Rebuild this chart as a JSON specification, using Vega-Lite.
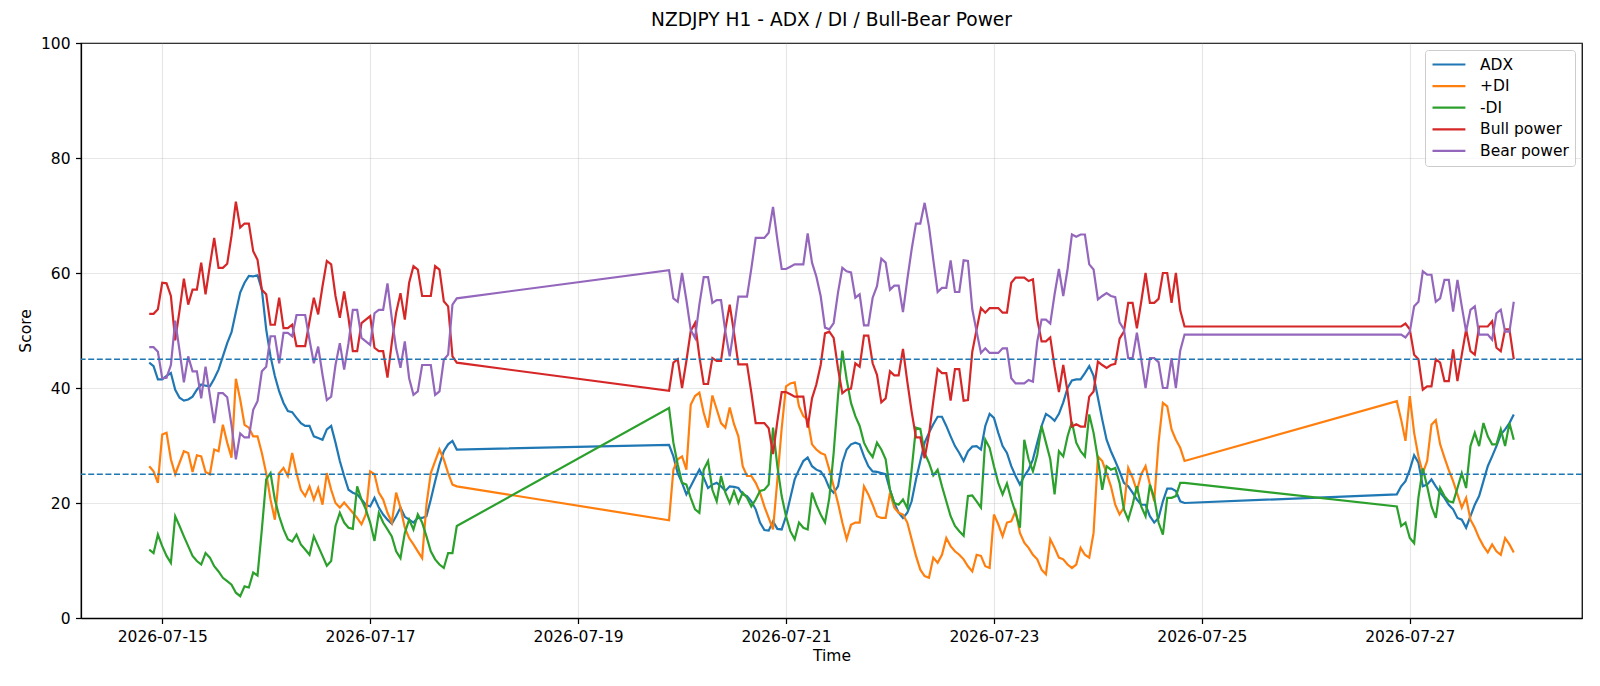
{
  "$schema": "https://vega.github.io/schema/vega-lite/v6.json",
  "width": 1501,
  "height": 575,
  "autosize": {"type": "none"},
  "padding": {"left": 81, "top": 43, "right": 18, "bottom": 68},
  "background": "white",
  "title": {
    "text": "NZDJPY H1 - ADX / DI / Bull-Bear Power",
    "font": "DejaVu Sans",
    "fontSize": 18.6,
    "fontWeight": "normal",
    "color": "black",
    "anchor": "middle",
    "offset": 6
  },
  "config": {
    "font": "DejaVu Sans",
    "view": {"stroke": "black", "strokeWidth": 1.25},
    "axis": {
      "labelFont": "DejaVu Sans",
      "labelFontSize": 15.5,
      "labelColor": "black",
      "titleFont": "DejaVu Sans",
      "titleFontSize": 15.5,
      "titleFontWeight": "normal",
      "titleColor": "black",
      "domainColor": "black",
      "domainWidth": 1.25,
      "tickColor": "black",
      "tickWidth": 1.25,
      "tickSize": 5.5,
      "labelPadding": 5.5,
      "grid": true,
      "gridColor": "#b0b0b0",
      "gridOpacity": 0.3,
      "gridWidth": 1.2
    },
    "legend": {
      "labelFont": "DejaVu Sans",
      "labelFontSize": 15.5,
      "labelColor": "black"
    }
  },
  "layer": [
    {
      "data": {
        "values": [
          {"t": "2026-07-14T21:00", "ADX": 44.4, "+DI": 26.4, "-DI": 11.9, "Bull power": 52.9, "Bear power": 47.1},
          {"t": "2026-07-14T22:00", "ADX": 43.8, "+DI": 25.5, "-DI": 11.3, "Bull power": 52.9, "Bear power": 47.1},
          {"t": "2026-07-14T23:00", "ADX": 41.5, "+DI": 23.5, "-DI": 14.5, "Bull power": 53.7, "Bear power": 46.3},
          {"t": "2026-07-15T00:00", "ADX": 41.5, "+DI": 31.9, "-DI": 12.5, "Bull power": 58.3, "Bear power": 41.7},
          {"t": "2026-07-15T01:00", "ADX": 42.1, "+DI": 32.2, "-DI": 10.8, "Bull power": 58.2, "Bear power": 41.8},
          {"t": "2026-07-15T02:00", "ADX": 42.6, "+DI": 27.6, "-DI": 9.6, "Bull power": 56.0, "Bear power": 44.0},
          {"t": "2026-07-15T03:00", "ADX": 39.7, "+DI": 25.0, "-DI": 17.7, "Bull power": 48.3, "Bear power": 51.7},
          {"t": "2026-07-15T04:00", "ADX": 38.3, "+DI": 27.0, "-DI": 16.0, "Bull power": 53.5, "Bear power": 46.5},
          {"t": "2026-07-15T05:00", "ADX": 37.8, "+DI": 29.0, "-DI": 14.2, "Bull power": 59.0, "Bear power": 41.0},
          {"t": "2026-07-15T06:00", "ADX": 38.0, "+DI": 28.7, "-DI": 12.5, "Bull power": 54.5, "Bear power": 45.5},
          {"t": "2026-07-15T07:00", "ADX": 38.5, "+DI": 25.4, "-DI": 10.8, "Bull power": 57.1, "Bear power": 42.9},
          {"t": "2026-07-15T08:00", "ADX": 39.7, "+DI": 28.3, "-DI": 9.9, "Bull power": 57.1, "Bear power": 42.9},
          {"t": "2026-07-15T09:00", "ADX": 40.6, "+DI": 28.1, "-DI": 9.3, "Bull power": 61.8, "Bear power": 38.2},
          {"t": "2026-07-15T10:00", "ADX": 40.4, "+DI": 25.4, "-DI": 11.3, "Bull power": 56.3, "Bear power": 43.7},
          {"t": "2026-07-15T11:00", "ADX": 40.3, "+DI": 25.0, "-DI": 10.5, "Bull power": 61.3, "Bear power": 38.7},
          {"t": "2026-07-15T12:00", "ADX": 41.6, "+DI": 29.3, "-DI": 9.0, "Bull power": 66.1, "Bear power": 33.9},
          {"t": "2026-07-15T13:00", "ADX": 43.2, "+DI": 29.0, "-DI": 8.1, "Bull power": 60.9, "Bear power": 39.1},
          {"t": "2026-07-15T14:00", "ADX": 45.5, "+DI": 33.6, "-DI": 7.0, "Bull power": 60.9, "Bear power": 39.1},
          {"t": "2026-07-15T15:00", "ADX": 47.8, "+DI": 30.5, "-DI": 6.4, "Bull power": 61.6, "Bear power": 38.4},
          {"t": "2026-07-15T16:00", "ADX": 49.7, "+DI": 27.9, "-DI": 5.8, "Bull power": 66.5, "Bear power": 33.5},
          {"t": "2026-07-15T17:00", "ADX": 53.2, "+DI": 41.6, "-DI": 4.4, "Bull power": 72.4, "Bear power": 27.6},
          {"t": "2026-07-15T18:00", "ADX": 56.6, "+DI": 38.0, "-DI": 3.8, "Bull power": 67.9, "Bear power": 32.1},
          {"t": "2026-07-15T19:00", "ADX": 58.3, "+DI": 33.6, "-DI": 5.5, "Bull power": 68.6, "Bear power": 31.4},
          {"t": "2026-07-15T20:00", "ADX": 59.5, "+DI": 33.1, "-DI": 5.3, "Bull power": 68.6, "Bear power": 31.4},
          {"t": "2026-07-15T21:00", "ADX": 59.4, "+DI": 31.6, "-DI": 7.9, "Bull power": 63.8, "Bear power": 36.2},
          {"t": "2026-07-15T22:00", "ADX": 59.6, "+DI": 31.6, "-DI": 7.4, "Bull power": 62.3, "Bear power": 37.7},
          {"t": "2026-07-15T23:00", "ADX": 57.1, "+DI": 28.7, "-DI": 15.4, "Bull power": 57.1, "Bear power": 42.9},
          {"t": "2026-07-16T00:00", "ADX": 50.2, "+DI": 25.2, "-DI": 24.1, "Bull power": 56.3, "Bear power": 43.7},
          {"t": "2026-07-16T01:00", "ADX": 45.5, "+DI": 20.6, "-DI": 25.2, "Bull power": 51.0, "Bear power": 49.0},
          {"t": "2026-07-16T02:00", "ADX": 42.1, "+DI": 17.1, "-DI": 20.6, "Bull power": 51.0, "Bear power": 49.0},
          {"t": "2026-07-16T03:00", "ADX": 39.4, "+DI": 25.2, "-DI": 17.7, "Bull power": 55.7, "Bear power": 44.3},
          {"t": "2026-07-16T04:00", "ADX": 37.4, "+DI": 26.1, "-DI": 15.4, "Bull power": 50.4, "Bear power": 49.6},
          {"t": "2026-07-16T05:00", "ADX": 36.0, "+DI": 24.7, "-DI": 13.7, "Bull power": 50.4, "Bear power": 49.6},
          {"t": "2026-07-16T06:00", "ADX": 35.8, "+DI": 28.7, "-DI": 13.3, "Bull power": 51.0, "Bear power": 49.0},
          {"t": "2026-07-16T07:00", "ADX": 34.8, "+DI": 25.2, "-DI": 14.5, "Bull power": 47.3, "Bear power": 52.7},
          {"t": "2026-07-16T08:00", "ADX": 33.9, "+DI": 22.3, "-DI": 12.8, "Bull power": 47.3, "Bear power": 52.7},
          {"t": "2026-07-16T09:00", "ADX": 33.4, "+DI": 21.2, "-DI": 11.9, "Bull power": 47.3, "Bear power": 52.7},
          {"t": "2026-07-16T10:00", "ADX": 33.4, "+DI": 22.9, "-DI": 11.0, "Bull power": 51.6, "Bear power": 48.4},
          {"t": "2026-07-16T11:00", "ADX": 31.6, "+DI": 20.6, "-DI": 14.2, "Bull power": 55.7, "Bear power": 44.3},
          {"t": "2026-07-16T12:00", "ADX": 31.3, "+DI": 22.6, "-DI": 12.5, "Bull power": 52.8, "Bear power": 47.2},
          {"t": "2026-07-16T13:00", "ADX": 31.0, "+DI": 19.7, "-DI": 10.8, "Bull power": 57.7, "Bear power": 42.3},
          {"t": "2026-07-16T14:00", "ADX": 32.8, "+DI": 25.2, "-DI": 9.1, "Bull power": 62.1, "Bear power": 37.9},
          {"t": "2026-07-16T15:00", "ADX": 33.4, "+DI": 22.3, "-DI": 9.9, "Bull power": 61.5, "Bear power": 38.5},
          {"t": "2026-07-16T16:00", "ADX": 30.5, "+DI": 20.0, "-DI": 16.0, "Bull power": 56.0, "Bear power": 44.0},
          {"t": "2026-07-16T17:00", "ADX": 27.3, "+DI": 19.2, "-DI": 18.3, "Bull power": 52.2, "Bear power": 47.8},
          {"t": "2026-07-16T18:00", "ADX": 24.7, "+DI": 20.1, "-DI": 16.6, "Bull power": 56.8, "Bear power": 43.2},
          {"t": "2026-07-16T19:00", "ADX": 22.3, "+DI": 19.2, "-DI": 15.7, "Bull power": 52.2, "Bear power": 47.8},
          {"t": "2026-07-16T20:00", "ADX": 21.8, "+DI": 18.3, "-DI": 15.5, "Bull power": 46.4, "Bear power": 53.6},
          {"t": "2026-07-16T21:00", "ADX": 21.5, "+DI": 17.4, "-DI": 22.9, "Bull power": 46.4, "Bear power": 53.6},
          {"t": "2026-07-16T22:00", "ADX": 20.6, "+DI": 16.3, "-DI": 20.6, "Bull power": 51.3, "Bear power": 48.7},
          {"t": "2026-07-16T23:00", "ADX": 19.7, "+DI": 18.0, "-DI": 18.9, "Bull power": 51.9, "Bear power": 48.1},
          {"t": "2026-07-17T00:00", "ADX": 19.4, "+DI": 25.5, "-DI": 16.6, "Bull power": 52.5, "Bear power": 47.5},
          {"t": "2026-07-17T01:00", "ADX": 20.9, "+DI": 25.0, "-DI": 13.4, "Bull power": 47.0, "Bear power": 53.0},
          {"t": "2026-07-17T02:00", "ADX": 19.2, "+DI": 21.8, "-DI": 18.3, "Bull power": 46.4, "Bear power": 53.6},
          {"t": "2026-07-17T03:00", "ADX": 18.0, "+DI": 20.6, "-DI": 16.6, "Bull power": 46.4, "Bear power": 53.6},
          {"t": "2026-07-17T04:00", "ADX": 17.1, "+DI": 18.3, "-DI": 15.4, "Bull power": 41.8, "Bear power": 58.2},
          {"t": "2026-07-17T05:00", "ADX": 16.4, "+DI": 16.6, "-DI": 14.2, "Bull power": 47.9, "Bear power": 52.1},
          {"t": "2026-07-17T06:00", "ADX": 17.7, "+DI": 21.8, "-DI": 11.6, "Bull power": 53.1, "Bear power": 46.9},
          {"t": "2026-07-17T07:00", "ADX": 19.2, "+DI": 19.2, "-DI": 10.4, "Bull power": 56.5, "Bear power": 43.5},
          {"t": "2026-07-17T08:00", "ADX": 17.6, "+DI": 15.7, "-DI": 14.8, "Bull power": 51.9, "Bear power": 48.1},
          {"t": "2026-07-17T09:00", "ADX": 17.1, "+DI": 13.9, "-DI": 17.1, "Bull power": 58.3, "Bear power": 41.7},
          {"t": "2026-07-17T10:00", "ADX": 16.6, "+DI": 12.8, "-DI": 15.4, "Bull power": 61.2, "Bear power": 38.8},
          {"t": "2026-07-17T11:00", "ADX": 17.4, "+DI": 11.6, "-DI": 18.0, "Bull power": 60.6, "Bear power": 39.4},
          {"t": "2026-07-17T12:00", "ADX": 17.4, "+DI": 10.4, "-DI": 16.6, "Bull power": 56.0, "Bear power": 44.0},
          {"t": "2026-07-17T13:00", "ADX": 17.7, "+DI": 19.7, "-DI": 14.2, "Bull power": 56.0, "Bear power": 44.0},
          {"t": "2026-07-17T14:00", "ADX": 20.6, "+DI": 25.2, "-DI": 11.6, "Bull power": 56.0, "Bear power": 44.0},
          {"t": "2026-07-17T15:00", "ADX": 23.8, "+DI": 27.3, "-DI": 10.2, "Bull power": 61.2, "Bear power": 38.8},
          {"t": "2026-07-17T16:00", "ADX": 26.7, "+DI": 29.3, "-DI": 9.3, "Bull power": 60.6, "Bear power": 39.4},
          {"t": "2026-07-17T17:00", "ADX": 29.0, "+DI": 27.6, "-DI": 8.7, "Bull power": 55.1, "Bear power": 44.9},
          {"t": "2026-07-17T18:00", "ADX": 30.2, "+DI": 25.2, "-DI": 11.3, "Bull power": 54.2, "Bear power": 45.8},
          {"t": "2026-07-17T19:00", "ADX": 30.8, "+DI": 23.2, "-DI": 11.3, "Bull power": 45.5, "Bear power": 54.5},
          {"t": "2026-07-17T20:00", "ADX": 29.3, "+DI": 22.9, "-DI": 16.0, "Bull power": 44.4, "Bear power": 55.6},
          {"t": "2026-07-19T21:00", "ADX": 30.1, "+DI": 17.0, "-DI": 36.5, "Bull power": 39.5, "Bear power": 60.5},
          {"t": "2026-07-19T22:00", "ADX": 28.1, "+DI": 25.8, "-DI": 30.5, "Bull power": 44.4, "Bear power": 55.6},
          {"t": "2026-07-19T23:00", "ADX": 25.2, "+DI": 27.6, "-DI": 26.7, "Bull power": 45.0, "Bear power": 55.0},
          {"t": "2026-07-20T00:00", "ADX": 23.5, "+DI": 28.1, "-DI": 23.5, "Bull power": 40.0, "Bear power": 60.0},
          {"t": "2026-07-20T01:00", "ADX": 21.5, "+DI": 25.8, "-DI": 23.2, "Bull power": 44.7, "Bear power": 55.3},
          {"t": "2026-07-20T02:00", "ADX": 22.9, "+DI": 37.1, "-DI": 20.9, "Bull power": 49.9, "Bear power": 50.1},
          {"t": "2026-07-20T03:00", "ADX": 24.4, "+DI": 38.6, "-DI": 18.9, "Bull power": 51.3, "Bear power": 48.7},
          {"t": "2026-07-20T04:00", "ADX": 25.8, "+DI": 39.2, "-DI": 18.3, "Bull power": 45.5, "Bear power": 54.5},
          {"t": "2026-07-20T05:00", "ADX": 24.4, "+DI": 35.7, "-DI": 25.8, "Bull power": 40.7, "Bear power": 59.3},
          {"t": "2026-07-20T06:00", "ADX": 22.6, "+DI": 33.1, "-DI": 27.3, "Bull power": 40.7, "Bear power": 59.3},
          {"t": "2026-07-20T07:00", "ADX": 23.2, "+DI": 38.7, "-DI": 22.3, "Bull power": 45.2, "Bear power": 54.8},
          {"t": "2026-07-20T08:00", "ADX": 23.5, "+DI": 36.3, "-DI": 20.3, "Bull power": 44.7, "Bear power": 55.3},
          {"t": "2026-07-20T09:00", "ADX": 22.9, "+DI": 33.9, "-DI": 24.7, "Bull power": 44.7, "Bear power": 55.3},
          {"t": "2026-07-20T10:00", "ADX": 22.1, "+DI": 33.1, "-DI": 21.8, "Bull power": 50.2, "Bear power": 49.8},
          {"t": "2026-07-20T11:00", "ADX": 22.9, "+DI": 36.6, "-DI": 20.0, "Bull power": 54.5, "Bear power": 45.5},
          {"t": "2026-07-20T12:00", "ADX": 22.8, "+DI": 33.7, "-DI": 22.1, "Bull power": 49.6, "Bear power": 50.4},
          {"t": "2026-07-20T13:00", "ADX": 22.6, "+DI": 31.6, "-DI": 20.0, "Bull power": 44.1, "Bear power": 55.9},
          {"t": "2026-07-20T14:00", "ADX": 21.5, "+DI": 26.4, "-DI": 21.8, "Bull power": 44.1, "Bear power": 55.9},
          {"t": "2026-07-20T15:00", "ADX": 21.2, "+DI": 24.7, "-DI": 20.9, "Bull power": 44.1, "Bear power": 55.9},
          {"t": "2026-07-20T16:00", "ADX": 20.3, "+DI": 24.7, "-DI": 19.4, "Bull power": 39.2, "Bear power": 60.8},
          {"t": "2026-07-20T17:00", "ADX": 18.9, "+DI": 23.5, "-DI": 20.6, "Bull power": 33.9, "Bear power": 66.1},
          {"t": "2026-07-20T18:00", "ADX": 16.6, "+DI": 21.8, "-DI": 22.1, "Bull power": 33.9, "Bear power": 66.1},
          {"t": "2026-07-20T19:00", "ADX": 15.3, "+DI": 19.4, "-DI": 22.3, "Bull power": 33.9, "Bear power": 66.1},
          {"t": "2026-07-20T20:00", "ADX": 15.2, "+DI": 17.4, "-DI": 23.2, "Bull power": 33.0, "Bear power": 67.0},
          {"t": "2026-07-20T21:00", "ADX": 16.8, "+DI": 15.4, "-DI": 33.1, "Bull power": 28.5, "Bear power": 71.5},
          {"t": "2026-07-20T22:00", "ADX": 15.5, "+DI": 24.0, "-DI": 26.4, "Bull power": 34.2, "Bear power": 65.8},
          {"t": "2026-07-20T23:00", "ADX": 15.4, "+DI": 33.0, "-DI": 21.2, "Bull power": 39.3, "Bear power": 60.7},
          {"t": "2026-07-21T00:00", "ADX": 17.7, "+DI": 40.3, "-DI": 17.7, "Bull power": 39.3, "Bear power": 60.7},
          {"t": "2026-07-21T01:00", "ADX": 20.9, "+DI": 40.8, "-DI": 15.1, "Bull power": 38.9, "Bear power": 61.1},
          {"t": "2026-07-21T02:00", "ADX": 24.1, "+DI": 41.0, "-DI": 13.7, "Bull power": 38.5, "Bear power": 61.5},
          {"t": "2026-07-21T03:00", "ADX": 25.8, "+DI": 36.8, "-DI": 16.6, "Bull power": 38.5, "Bear power": 61.5},
          {"t": "2026-07-21T04:00", "ADX": 27.3, "+DI": 35.1, "-DI": 15.7, "Bull power": 38.5, "Bear power": 61.5},
          {"t": "2026-07-21T05:00", "ADX": 27.9, "+DI": 34.5, "-DI": 15.4, "Bull power": 33.1, "Bear power": 66.9},
          {"t": "2026-07-21T06:00", "ADX": 26.4, "+DI": 30.2, "-DI": 21.8, "Bull power": 38.2, "Bear power": 61.8},
          {"t": "2026-07-21T07:00", "ADX": 25.8, "+DI": 29.3, "-DI": 19.7, "Bull power": 40.6, "Bear power": 59.4},
          {"t": "2026-07-21T08:00", "ADX": 25.5, "+DI": 28.7, "-DI": 18.0, "Bull power": 44.0, "Bear power": 56.0},
          {"t": "2026-07-21T09:00", "ADX": 24.4, "+DI": 28.4, "-DI": 16.6, "Bull power": 49.5, "Bear power": 50.5},
          {"t": "2026-07-21T10:00", "ADX": 22.6, "+DI": 25.8, "-DI": 20.9, "Bull power": 49.8, "Bear power": 50.2},
          {"t": "2026-07-21T11:00", "ADX": 21.8, "+DI": 22.9, "-DI": 28.7, "Bull power": 48.7, "Bear power": 51.3},
          {"t": "2026-07-21T12:00", "ADX": 22.9, "+DI": 20.0, "-DI": 38.6, "Bull power": 43.4, "Bear power": 56.6},
          {"t": "2026-07-21T13:00", "ADX": 27.0, "+DI": 16.6, "-DI": 46.5, "Bull power": 39.1, "Bear power": 60.9},
          {"t": "2026-07-21T14:00", "ADX": 29.3, "+DI": 13.7, "-DI": 41.5, "Bull power": 39.7, "Bear power": 60.3},
          {"t": "2026-07-21T15:00", "ADX": 30.2, "+DI": 16.2, "-DI": 37.4, "Bull power": 39.9, "Bear power": 60.1},
          {"t": "2026-07-21T16:00", "ADX": 30.5, "+DI": 16.6, "-DI": 35.1, "Bull power": 44.3, "Bear power": 55.7},
          {"t": "2026-07-21T17:00", "ADX": 30.2, "+DI": 16.6, "-DI": 33.4, "Bull power": 43.7, "Bear power": 56.3},
          {"t": "2026-07-21T18:00", "ADX": 28.1, "+DI": 22.9, "-DI": 30.5, "Bull power": 49.1, "Bear power": 50.9},
          {"t": "2026-07-21T19:00", "ADX": 26.4, "+DI": 21.5, "-DI": 29.0, "Bull power": 49.1, "Bear power": 50.9},
          {"t": "2026-07-21T20:00", "ADX": 25.5, "+DI": 19.7, "-DI": 28.0, "Bull power": 44.3, "Bear power": 55.7},
          {"t": "2026-07-21T21:00", "ADX": 25.4, "+DI": 17.7, "-DI": 30.5, "Bull power": 42.3, "Bear power": 57.7},
          {"t": "2026-07-21T22:00", "ADX": 25.2, "+DI": 17.4, "-DI": 29.3, "Bull power": 37.5, "Bear power": 62.5},
          {"t": "2026-07-21T23:00", "ADX": 25.0, "+DI": 17.4, "-DI": 27.6, "Bull power": 38.2, "Bear power": 61.8},
          {"t": "2026-07-22T00:00", "ADX": 22.3, "+DI": 21.8, "-DI": 22.3, "Bull power": 42.9, "Bear power": 57.1},
          {"t": "2026-07-22T01:00", "ADX": 20.0, "+DI": 19.2, "-DI": 20.0, "Bull power": 42.2, "Bear power": 57.8},
          {"t": "2026-07-22T02:00", "ADX": 18.3, "+DI": 18.3, "-DI": 19.7, "Bull power": 42.2, "Bear power": 57.8},
          {"t": "2026-07-22T03:00", "ADX": 17.4, "+DI": 18.0, "-DI": 20.6, "Bull power": 46.8, "Bear power": 53.2},
          {"t": "2026-07-22T04:00", "ADX": 18.3, "+DI": 16.6, "-DI": 19.1, "Bull power": 41.1, "Bear power": 58.9},
          {"t": "2026-07-22T05:00", "ADX": 20.3, "+DI": 13.7, "-DI": 25.8, "Bull power": 35.9, "Bear power": 64.1},
          {"t": "2026-07-22T06:00", "ADX": 24.1, "+DI": 10.8, "-DI": 33.1, "Bull power": 31.4, "Bear power": 68.6},
          {"t": "2026-07-22T07:00", "ADX": 27.3, "+DI": 8.4, "-DI": 32.9, "Bull power": 31.4, "Bear power": 68.6},
          {"t": "2026-07-22T08:00", "ADX": 30.5, "+DI": 7.3, "-DI": 28.7, "Bull power": 27.8, "Bear power": 72.2},
          {"t": "2026-07-22T09:00", "ADX": 32.2, "+DI": 7.0, "-DI": 27.0, "Bull power": 31.9, "Bear power": 68.1},
          {"t": "2026-07-22T10:00", "ADX": 33.7, "+DI": 10.5, "-DI": 24.8, "Bull power": 37.7, "Bear power": 62.3},
          {"t": "2026-07-22T11:00", "ADX": 35.0, "+DI": 9.6, "-DI": 25.8, "Bull power": 43.3, "Bear power": 56.7},
          {"t": "2026-07-22T12:00", "ADX": 35.0, "+DI": 11.0, "-DI": 22.9, "Bull power": 42.6, "Bear power": 57.4},
          {"t": "2026-07-22T13:00", "ADX": 33.4, "+DI": 13.9, "-DI": 20.3, "Bull power": 42.6, "Bear power": 57.4},
          {"t": "2026-07-22T14:00", "ADX": 31.6, "+DI": 12.5, "-DI": 17.7, "Bull power": 37.8, "Bear power": 62.2},
          {"t": "2026-07-22T15:00", "ADX": 29.9, "+DI": 11.6, "-DI": 16.0, "Bull power": 43.3, "Bear power": 56.7},
          {"t": "2026-07-22T16:00", "ADX": 28.7, "+DI": 11.0, "-DI": 15.1, "Bull power": 43.3, "Bear power": 56.7},
          {"t": "2026-07-22T17:00", "ADX": 27.3, "+DI": 10.2, "-DI": 14.3, "Bull power": 37.8, "Bear power": 62.2},
          {"t": "2026-07-22T18:00", "ADX": 29.0, "+DI": 9.0, "-DI": 21.2, "Bull power": 37.9, "Bear power": 62.1},
          {"t": "2026-07-22T19:00", "ADX": 29.8, "+DI": 8.1, "-DI": 21.3, "Bull power": 46.3, "Bear power": 53.7},
          {"t": "2026-07-22T20:00", "ADX": 29.9, "+DI": 11.0, "-DI": 20.3, "Bull power": 50.2, "Bear power": 49.8},
          {"t": "2026-07-22T21:00", "ADX": 29.3, "+DI": 10.8, "-DI": 19.2, "Bull power": 53.9, "Bear power": 46.1},
          {"t": "2026-07-22T22:00", "ADX": 33.4, "+DI": 9.0, "-DI": 31.0, "Bull power": 53.1, "Bear power": 46.9},
          {"t": "2026-07-22T23:00", "ADX": 35.5, "+DI": 8.7, "-DI": 29.6, "Bull power": 53.9, "Bear power": 46.1},
          {"t": "2026-07-23T00:00", "ADX": 34.8, "+DI": 18.0, "-DI": 26.4, "Bull power": 53.9, "Bear power": 46.1},
          {"t": "2026-07-23T01:00", "ADX": 32.2, "+DI": 16.3, "-DI": 23.5, "Bull power": 53.9, "Bear power": 46.1},
          {"t": "2026-07-23T02:00", "ADX": 29.9, "+DI": 14.2, "-DI": 21.5, "Bull power": 53.1, "Bear power": 46.9},
          {"t": "2026-07-23T03:00", "ADX": 28.7, "+DI": 16.6, "-DI": 23.4, "Bull power": 53.1, "Bear power": 46.9},
          {"t": "2026-07-23T04:00", "ADX": 26.4, "+DI": 16.8, "-DI": 20.6, "Bull power": 58.3, "Bear power": 41.7},
          {"t": "2026-07-23T05:00", "ADX": 24.7, "+DI": 18.6, "-DI": 18.3, "Bull power": 59.2, "Bear power": 40.8},
          {"t": "2026-07-23T06:00", "ADX": 23.2, "+DI": 14.8, "-DI": 15.7, "Bull power": 59.2, "Bear power": 40.8},
          {"t": "2026-07-23T07:00", "ADX": 24.7, "+DI": 13.1, "-DI": 31.0, "Bull power": 59.2, "Bear power": 40.8},
          {"t": "2026-07-23T08:00", "ADX": 25.8, "+DI": 12.2, "-DI": 27.6, "Bull power": 58.6, "Bear power": 41.4},
          {"t": "2026-07-23T09:00", "ADX": 27.6, "+DI": 11.0, "-DI": 25.5, "Bull power": 58.9, "Bear power": 41.1},
          {"t": "2026-07-23T10:00", "ADX": 30.5, "+DI": 10.2, "-DI": 28.4, "Bull power": 51.9, "Bear power": 48.1},
          {"t": "2026-07-23T11:00", "ADX": 33.4, "+DI": 8.4, "-DI": 33.4, "Bull power": 48.1, "Bear power": 51.9},
          {"t": "2026-07-23T12:00", "ADX": 35.5, "+DI": 7.6, "-DI": 30.5, "Bull power": 48.1, "Bear power": 51.9},
          {"t": "2026-07-23T13:00", "ADX": 35.0, "+DI": 13.7, "-DI": 27.6, "Bull power": 48.8, "Bear power": 51.2},
          {"t": "2026-07-23T14:00", "ADX": 34.3, "+DI": 12.2, "-DI": 21.5, "Bull power": 43.7, "Bear power": 56.3},
          {"t": "2026-07-23T15:00", "ADX": 35.5, "+DI": 10.5, "-DI": 29.0, "Bull power": 39.3, "Bear power": 60.7},
          {"t": "2026-07-23T16:00", "ADX": 37.5, "+DI": 10.2, "-DI": 28.1, "Bull power": 44.0, "Bear power": 56.0},
          {"t": "2026-07-23T17:00", "ADX": 40.0, "+DI": 9.3, "-DI": 31.6, "Bull power": 39.3, "Bear power": 60.7},
          {"t": "2026-07-23T18:00", "ADX": 41.3, "+DI": 8.7, "-DI": 34.1, "Bull power": 33.3, "Bear power": 66.7},
          {"t": "2026-07-23T19:00", "ADX": 41.5, "+DI": 9.3, "-DI": 30.5, "Bull power": 33.7, "Bear power": 66.3},
          {"t": "2026-07-23T20:00", "ADX": 41.5, "+DI": 12.2, "-DI": 29.0, "Bull power": 33.3, "Bear power": 66.7},
          {"t": "2026-07-23T21:00", "ADX": 42.6, "+DI": 11.0, "-DI": 28.1, "Bull power": 33.3, "Bear power": 66.7},
          {"t": "2026-07-23T22:00", "ADX": 43.8, "+DI": 10.5, "-DI": 35.4, "Bull power": 38.5, "Bear power": 61.5},
          {"t": "2026-07-23T23:00", "ADX": 42.1, "+DI": 14.8, "-DI": 32.2, "Bull power": 39.4, "Bear power": 60.6},
          {"t": "2026-07-24T00:00", "ADX": 38.3, "+DI": 28.1, "-DI": 27.6, "Bull power": 44.6, "Bear power": 55.4},
          {"t": "2026-07-24T01:00", "ADX": 34.5, "+DI": 27.3, "-DI": 22.3, "Bull power": 44.0, "Bear power": 56.0},
          {"t": "2026-07-24T02:00", "ADX": 31.0, "+DI": 25.2, "-DI": 26.4, "Bull power": 43.5, "Bear power": 56.5},
          {"t": "2026-07-24T03:00", "ADX": 29.0, "+DI": 22.9, "-DI": 25.8, "Bull power": 44.0, "Bear power": 56.0},
          {"t": "2026-07-24T04:00", "ADX": 27.3, "+DI": 19.7, "-DI": 26.1, "Bull power": 44.2, "Bear power": 55.8},
          {"t": "2026-07-24T05:00", "ADX": 25.5, "+DI": 18.0, "-DI": 23.5, "Bull power": 48.6, "Bear power": 51.4},
          {"t": "2026-07-24T06:00", "ADX": 23.5, "+DI": 19.2, "-DI": 18.9, "Bull power": 49.8, "Bear power": 50.2},
          {"t": "2026-07-24T07:00", "ADX": 22.9, "+DI": 26.1, "-DI": 17.1, "Bull power": 54.8, "Bear power": 45.2},
          {"t": "2026-07-24T08:00", "ADX": 21.8, "+DI": 24.4, "-DI": 19.7, "Bull power": 54.8, "Bear power": 45.2},
          {"t": "2026-07-24T09:00", "ADX": 20.6, "+DI": 22.1, "-DI": 22.9, "Bull power": 50.4, "Bear power": 49.6},
          {"t": "2026-07-24T10:00", "ADX": 19.7, "+DI": 25.0, "-DI": 19.4, "Bull power": 55.0, "Bear power": 45.0},
          {"t": "2026-07-24T11:00", "ADX": 19.7, "+DI": 26.4, "-DI": 17.7, "Bull power": 60.0, "Bear power": 40.0},
          {"t": "2026-07-24T12:00", "ADX": 17.7, "+DI": 23.2, "-DI": 23.2, "Bull power": 54.8, "Bear power": 45.2},
          {"t": "2026-07-24T13:00", "ADX": 16.6, "+DI": 20.3, "-DI": 20.9, "Bull power": 54.8, "Bear power": 45.2},
          {"t": "2026-07-24T14:00", "ADX": 17.4, "+DI": 30.5, "-DI": 16.6, "Bull power": 55.5, "Bear power": 44.5},
          {"t": "2026-07-24T15:00", "ADX": 20.3, "+DI": 37.4, "-DI": 14.5, "Bull power": 60.0, "Bear power": 40.0},
          {"t": "2026-07-24T16:00", "ADX": 22.5, "+DI": 36.8, "-DI": 20.9, "Bull power": 60.0, "Bear power": 40.0},
          {"t": "2026-07-24T17:00", "ADX": 22.5, "+DI": 32.8, "-DI": 20.9, "Bull power": 54.8, "Bear power": 45.2},
          {"t": "2026-07-24T18:00", "ADX": 22.1, "+DI": 31.0, "-DI": 21.2, "Bull power": 60.0, "Bear power": 40.0},
          {"t": "2026-07-24T19:00", "ADX": 20.3, "+DI": 29.6, "-DI": 23.5, "Bull power": 53.5, "Bear power": 46.5},
          {"t": "2026-07-24T20:00", "ADX": 20.0, "+DI": 27.3, "-DI": 23.5, "Bull power": 50.7, "Bear power": 49.3},
          {"t": "2026-07-26T21:00", "ADX": 21.5, "+DI": 37.7, "-DI": 19.4, "Bull power": 50.7, "Bear power": 49.3},
          {"t": "2026-07-26T22:00", "ADX": 22.9, "+DI": 34.5, "-DI": 16.0, "Bull power": 50.7, "Bear power": 49.3},
          {"t": "2026-07-26T23:00", "ADX": 23.8, "+DI": 30.8, "-DI": 16.6, "Bull power": 51.2, "Bear power": 48.8},
          {"t": "2026-07-27T00:00", "ADX": 25.8, "+DI": 38.6, "-DI": 13.9, "Bull power": 50.2, "Bear power": 49.8},
          {"t": "2026-07-27T01:00", "ADX": 28.3, "+DI": 32.2, "-DI": 13.0, "Bull power": 45.8, "Bear power": 54.2},
          {"t": "2026-07-27T02:00", "ADX": 27.0, "+DI": 28.1, "-DI": 21.0, "Bull power": 45.0, "Bear power": 55.0},
          {"t": "2026-07-27T03:00", "ADX": 22.9, "+DI": 25.2, "-DI": 26.0, "Bull power": 39.7, "Bear power": 60.3},
          {"t": "2026-07-27T04:00", "ADX": 23.2, "+DI": 27.3, "-DI": 22.9, "Bull power": 40.3, "Bear power": 59.7},
          {"t": "2026-07-27T05:00", "ADX": 24.1, "+DI": 33.6, "-DI": 19.4, "Bull power": 40.3, "Bear power": 59.7},
          {"t": "2026-07-27T06:00", "ADX": 22.9, "+DI": 34.4, "-DI": 17.4, "Bull power": 45.0, "Bear power": 55.0},
          {"t": "2026-07-27T07:00", "ADX": 21.8, "+DI": 30.2, "-DI": 22.6, "Bull power": 44.4, "Bear power": 55.6},
          {"t": "2026-07-27T08:00", "ADX": 20.9, "+DI": 27.9, "-DI": 21.2, "Bull power": 41.2, "Bear power": 58.8},
          {"t": "2026-07-27T09:00", "ADX": 19.7, "+DI": 25.7, "-DI": 20.3, "Bull power": 41.2, "Bear power": 58.8},
          {"t": "2026-07-27T10:00", "ADX": 18.9, "+DI": 23.8, "-DI": 20.1, "Bull power": 46.7, "Bear power": 53.3},
          {"t": "2026-07-27T11:00", "ADX": 17.4, "+DI": 21.5, "-DI": 22.6, "Bull power": 41.2, "Bear power": 58.8},
          {"t": "2026-07-27T12:00", "ADX": 17.1, "+DI": 19.2, "-DI": 25.2, "Bull power": 45.8, "Bear power": 54.2},
          {"t": "2026-07-27T13:00", "ADX": 15.7, "+DI": 20.9, "-DI": 22.6, "Bull power": 50.2, "Bear power": 49.8},
          {"t": "2026-07-27T14:00", "ADX": 17.7, "+DI": 17.1, "-DI": 29.9, "Bull power": 46.4, "Bear power": 53.6},
          {"t": "2026-07-27T15:00", "ADX": 19.7, "+DI": 15.7, "-DI": 32.2, "Bull power": 45.8, "Bear power": 54.2},
          {"t": "2026-07-27T16:00", "ADX": 21.2, "+DI": 13.9, "-DI": 29.9, "Bull power": 50.7, "Bear power": 49.3},
          {"t": "2026-07-27T17:00", "ADX": 23.8, "+DI": 12.5, "-DI": 33.9, "Bull power": 50.7, "Bear power": 49.3},
          {"t": "2026-07-27T18:00", "ADX": 26.4, "+DI": 11.4, "-DI": 31.6, "Bull power": 50.7, "Bear power": 49.3},
          {"t": "2026-07-27T19:00", "ADX": 28.1, "+DI": 12.8, "-DI": 30.2, "Bull power": 51.6, "Bear power": 48.4},
          {"t": "2026-07-27T20:00", "ADX": 29.9, "+DI": 11.6, "-DI": 30.2, "Bull power": 47.0, "Bear power": 53.0},
          {"t": "2026-07-27T21:00", "ADX": 31.9, "+DI": 11.0, "-DI": 32.8, "Bull power": 46.4, "Bear power": 53.6},
          {"t": "2026-07-27T22:00", "ADX": 32.8, "+DI": 13.9, "-DI": 29.9, "Bull power": 50.2, "Bear power": 49.8},
          {"t": "2026-07-27T23:00", "ADX": 33.9, "+DI": 12.8, "-DI": 33.9, "Bull power": 50.2, "Bear power": 49.8},
          {"t": "2026-07-28T00:00", "ADX": 35.4, "+DI": 11.4, "-DI": 31.0, "Bull power": 45.0, "Bear power": 55.0}
        ]
      },
      "transform": [
        {"fold": ["ADX", "+DI", "-DI", "Bull power", "Bear power"], "as": ["series", "score"]}
      ],
      "mark": {"type": "line", "strokeWidth": 2.2, "interpolate": "linear"},
      "encoding": {
        "x": {
          "field": "t",
          "type": "temporal",
          "scale": {
            "domain": [
              {"year": 2026, "month": 7, "date": 14, "hours": 5, "minutes": 15},
              {"year": 2026, "month": 7, "date": 28, "hours": 15, "minutes": 45}
            ]
          },
          "axis": {
            "title": "Time",
            "titlePadding": 4,
            "format": "%Y-%m-%d",
            "labelAngle": 0,
            "labelFlush": false,
            "values": [
              {"year": 2026, "month": 7, "date": 15},
              {"year": 2026, "month": 7, "date": 17},
              {"year": 2026, "month": 7, "date": 19},
              {"year": 2026, "month": 7, "date": 21},
              {"year": 2026, "month": 7, "date": 23},
              {"year": 2026, "month": 7, "date": 25},
              {"year": 2026, "month": 7, "date": 27}
            ]
          }
        },
        "y": {
          "field": "score",
          "type": "quantitative",
          "scale": {"domain": [0, 100], "nice": false, "zero": false},
          "axis": {
            "title": "Score",
            "titlePadding": 7,
            "values": [0, 20, 40, 60, 80, 100],
            "labelFlush": false
          }
        },
        "color": {
          "field": "series",
          "type": "nominal",
          "scale": {
            "domain": ["ADX", "+DI", "-DI", "Bull power", "Bear power"],
            "range": ["#1f77b4", "#ff7f0e", "#2ca02c", "#d62728", "#9467bd"]
          },
          "legend": {
            "title": null,
            "orient": "top-right",
            "offset": 7,
            "padding": 6,
            "fillColor": "rgba(255,255,255,0.8)",
            "strokeColor": "#cccccc",
            "cornerRadius": 3,
            "symbolType": "M-1,0H3.7",
            "symbolSize": 196,
            "symbolStrokeWidth": 2.2,
            "symbolFillColor": "transparent",
            "labelOffset": 32,
            "rowPadding": 4.6,
            "labelFontSize": 15.5
          }
        }
      }
    },
    {
      "data": {"values": [{"level": 45}, {"level": 25}]},
      "mark": {"type": "rule", "color": "#1f77b4", "strokeWidth": 1.5, "strokeDash": [6, 2.6]},
      "encoding": {
        "y": {"field": "level", "type": "quantitative"}
      }
    }
  ]
}
